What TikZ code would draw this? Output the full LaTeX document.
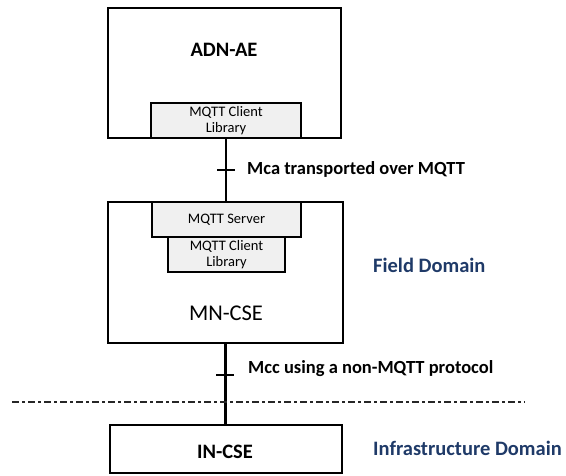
\documentclass[tikz,border=0pt]{standalone}
\usepackage{fontspec}
\setmainfont{Carlito}
\definecolor{domainblue}{HTML}{1F3A68}
\definecolor{libgray}{HTML}{F0F0F0}
\tikzset{
  bigbox/.style={draw=black, line width=2pt, inner sep=0pt, fill=white},
  midbox/.style={draw=black, line width=1.3pt, inner sep=0pt, fill=white},
  libbox/.style={draw=black, line width=1.3pt, inner sep=0pt, fill=libgray, align=center, font=\fontsize{14.5}{15.5}\selectfont},
  conn/.style={line width=2.4pt},
  tickline/.style={line width=1.8pt},
  lbl/.style={anchor=west, inner sep=0pt, font=\bfseries\fontsize{18.5}{20}\selectfont},
  domlabel/.style={anchor=west, inner sep=0pt, text=domainblue, font=\bfseries\fontsize{20.5}{22}\selectfont},
  borderline/.style={line width=2.6pt, draw=black!85, dash pattern=on 7pt off 3pt on 3pt off 3pt}
}
\begin{document}
\begin{tikzpicture}[x=1pt, y=-1pt]
\useasboundingbox (0,0) rectangle (566,476);
% ADN-AE
\node[bigbox, minimum width=233pt, minimum height=130pt] (adn) at (224.5,73) {};
\node[font=\bfseries\fontsize{20.5}{22}\selectfont, inner sep=0pt] (adnt) at (224,50) {ADN-AE};
\node[libbox, minimum width=150pt, minimum height=35pt] (adnlib) at (226,120.5) {MQTT Client\\Library};
% MN-CSE
\node[midbox, minimum width=235pt, minimum height=141pt] (mn) at (225.5,272.5) {};
\node[libbox, minimum width=149pt, minimum height=35pt] (srv) at (226.5,219.5) {MQTT Server};
\node[libbox, minimum width=117pt, minimum height=35pt] (mnlib) at (226.5,254.5) {MQTT Client\\Library};
\node[font=\fontsize{22.5}{24}\selectfont, inner sep=0pt] (mnt) at (226,313) {MN-CSE};
% IN-CSE
\node[bigbox, minimum width=232pt, minimum height=48pt] (in) at (225.5,449) {};
\node[font=\bfseries\fontsize{20.5}{22}\selectfont, inner sep=0pt] (int) at (225,452) {IN-CSE};
% connectors
\draw[conn] (adnlib.south) -- (adnlib.south |- srv.north);
\coordinate (t1a) at (217,170);
\coordinate (t1b) at (235,170);
\draw[tickline] (t1a) -- (t1b);
\node[lbl] (mca) at (247,169) {Mca transported over MQTT};
\draw[conn] (mn.south) -- (mn.south |- in.north);
\coordinate (t2a) at (216,375);
\coordinate (t2b) at (234,375);
\draw[tickline] (t2a) -- (t2b);
\node[lbl] (mcc) at (248,369) {Mcc using a non-MQTT protocol};
% domain border
\coordinate (b1) at (12,402);
\coordinate (b2) at (525,402);
\draw[borderline] (b1) -- (b2);
\node[domlabel] (fd) at (373,265) {Field Domain};
\node[domlabel] (idom) at (373,448) {Infrastructure Domain};
\end{tikzpicture}
\end{document}
